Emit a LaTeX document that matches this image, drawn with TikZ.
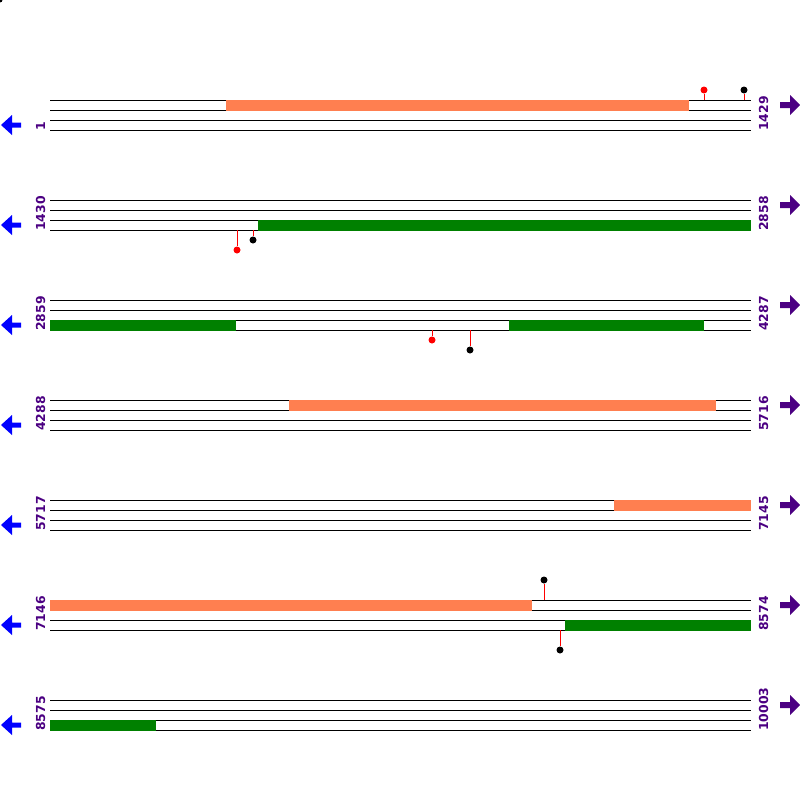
\documentclass[tikz,border=0pt]{standalone}
\usepackage{fontspec}
\newfontfamily\labelfont{DejaVu Sans}
\definecolor{coralbar}{RGB}{255,127,80}
\definecolor{greenbar}{RGB}{0,128,0}
\definecolor{labpurple}{RGB}{75,0,130}
\tikzset{
  frameline/.style={black,line width=1pt},
  orangebar/.style={fill=coralbar,draw=none},
  greenbarst/.style={fill=greenbar,draw=none},
  stick/.style={red,line width=1pt},
  reddot/.style={circle,fill=red,inner sep=0pt,minimum size=7pt},
  blackdot/.style={circle,fill=black,inner sep=0pt,minimum size=7pt},
  numlab/.style={labpurple,font=\labelfont\bfseries\fontsize{12.4}{12.4}\selectfont,rotate=90,anchor=base west,inner sep=0pt},
  leftarrow/.style={fill=blue,draw=none},
  rightarrow/.style={fill=labpurple,draw=none},
}
\begin{document}
\begin{tikzpicture}[x=1pt,y=-1pt]
\useasboundingbox (0,0) rectangle (800,800);
\fill[black] (0,0) circle (2.5);
% frame lines
\foreach \k in {1,...,7}{
  \foreach \d in {0,10,20,30}{
    \draw[frameline] (50,{100*\k+\d}) -- (751,{100*\k+\d});
  }
  \fill[leftarrow] (1,{100*\k+25}) -- (12,{100*\k+15}) -- (12,{100*\k+22.5}) -- (21,{100*\k+22.5}) -- (21,{100*\k+27.5}) -- (12,{100*\k+27.5}) -- (12,{100*\k+35}) -- cycle;
  \fill[rightarrow] (800,{100*\k+5}) -- (790,{100*\k-5}) -- (790,{100*\k+2}) -- (780,{100*\k+2}) -- (780,{100*\k+8}) -- (790,{100*\k+8}) -- (790,{100*\k+15}) -- cycle;
}
% bars
\fill[orangebar] (226,100) rectangle (689,110.5);
\fill[greenbarst] (258,220) rectangle (751,230.5);
\fill[greenbarst] (50,320) rectangle (236,330.5);
\fill[greenbarst] (509,320) rectangle (704,330.5);
\fill[orangebar] (289,400) rectangle (716,410.5);
\fill[orangebar] (614,500) rectangle (751,510.5);
\fill[orangebar] (50,600) rectangle (532,610.5);
\fill[greenbarst] (565,620) rectangle (751,630.5);
\fill[greenbarst] (50,720) rectangle (156,730.5);
% lollipops
\node[reddot] (m1) at (704,90) {};
\node[blackdot] (m2) at (744,90) {};
\coordinate (b1) at (704,100); \coordinate (b2) at (744,100);
\draw[stick] (b1) -- (m1); \draw[stick] (b2) -- (m2);
\node[reddot] (m3) at (237,250) {};
\node[blackdot] (m4) at (253,240) {};
\coordinate (b3) at (237,230); \coordinate (b4) at (253,230);
\draw[stick] (b3) -- (m3); \draw[stick] (b4) -- (m4);
\node[reddot] (m5) at (432,340) {};
\node[blackdot] (m6) at (470,350) {};
\coordinate (b5) at (432,330); \coordinate (b6) at (470,330);
\draw[stick] (b5) -- (m5); \draw[stick] (b6) -- (m6);
\node[blackdot] (m7) at (544,580) {};
\node[blackdot] (m8) at (560,650) {};
\coordinate (b7) at (544,600); \coordinate (b8) at (560,630);
\draw[stick] (b7) -- (m7); \draw[stick] (b8) -- (m8);
% labels
\node[numlab] (l1) at (45,131) {1};
\node[numlab] (r1) at (768,131) {1429};
\node[numlab] (l2) at (45,231) {1430};
\node[numlab] (r2) at (768,231) {2858};
\node[numlab] (l3) at (45,331) {2859};
\node[numlab] (r3) at (768,331) {4287};
\node[numlab] (l4) at (45,431) {4288};
\node[numlab] (r4) at (768,431) {5716};
\node[numlab] (l5) at (45,531) {5717};
\node[numlab] (r5) at (768,531) {7145};
\node[numlab] (l6) at (45,631) {7146};
\node[numlab] (r6) at (768,631) {8574};
\node[numlab] (l7) at (45,731) {8575};
\node[numlab] (r7) at (768,731) {10003};
\end{tikzpicture}
\end{document}
